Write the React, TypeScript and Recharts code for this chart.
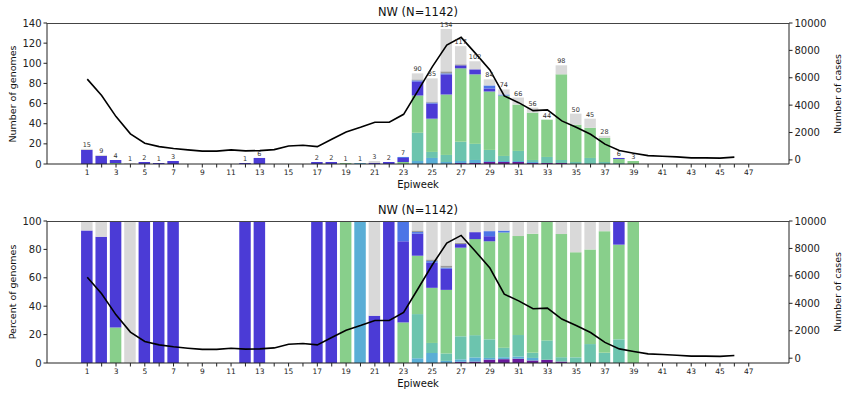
import { ComposedChart, Bar, Line, XAxis, YAxis, LabelList } from "recharts";

// epiweeks 1..46
const weeks = [1, 2, 3, 4, 5, 6, 7, 8, 9, 10, 11, 12, 13, 14, 15, 16, 17, 18, 19, 20, 21, 22, 23, 24, 25, 26, 27, 28, 29, 30, 31, 32, 33, 34, 35, 36, 37, 38, 39, 40, 41, 42, 43, 44, 45, 46];

// reported cases per week (right axis)
const cases = [5900, 4700, 3160, 1900, 1220, 970, 830, 730, 640, 640, 730, 660, 680, 750, 1020, 1070, 970, 1510, 2040, 2380, 2750, 2750, 3330, 5060, 6810, 8390, 8950, 7780, 6570, 4670, 4180, 3600, 3650, 2850, 2380, 1870, 1150, 680, 490, 315, 270, 220, 150, 150, 130, 200];

// genome counts per lineage group, week 1..46 (bottom of stack first)
const purple = [0, 0, 0, 0, 0, 0, 0, 0, 0, 0, 0, 0, 0, 0, 0, 0, 0, 0, 0, 0, 0, 0, 0, 0, 0, 0, 1, 1, 2, 2, 2, 1, 1, 1, 0, 0, 0, 0, 0, 0, 0, 0, 0, 0, 0, 0];
const skyBlue = [0, 0, 0, 0, 0, 0, 0, 0, 0, 0, 0, 0, 0, 0, 0, 0, 0, 0, 0, 1, 0, 0, 0, 3, 6, 2, 2, 3, 1, 1, 1, 1, 0, 0, 0, 0, 0, 0, 0, 0, 0, 0, 0, 0, 0, 0];
const teal = [0, 0, 0, 0, 0, 0, 0, 0, 0, 0, 0, 0, 0, 0, 0, 0, 0, 0, 0, 0, 0, 0, 0, 28, 6, 7, 19, 16, 11, 5, 10, 2, 6, 3, 2, 6, 2, 1, 0, 0, 0, 0, 0, 0, 0, 0];
const green = [0, 0, 1, 0, 0, 0, 0, 0, 0, 0, 0, 0, 0, 0, 0, 0, 0, 0, 1, 0, 0, 0, 2, 37, 33, 60, 73, 69, 58, 60, 46, 47, 37, 85, 37, 30, 24, 4, 3, 0, 0, 0, 0, 0, 0, 0];
const violet = [14, 8, 3, 0, 2, 1, 3, 0, 0, 0, 0, 1, 6, 0, 0, 0, 2, 2, 0, 0, 1, 2, 4, 14, 15, 20, 3, 5, 3, 0, 0, 0, 0, 0, 0, 0, 0, 1, 0, 0, 0, 0, 0, 0, 0, 0];
const royal = [0, 0, 0, 0, 0, 0, 0, 0, 0, 0, 0, 0, 0, 0, 0, 0, 0, 0, 0, 0, 0, 0, 1, 1, 1, 1, 0, 0, 3, 1, 0, 0, 0, 0, 0, 0, 0, 0, 0, 0, 0, 0, 0, 0, 0, 0];
const grey = [0, 0, 0, 0, 0, 0, 0, 0, 0, 0, 0, 0, 0, 0, 0, 0, 0, 0, 0, 0, 0, 0, 0, 1, 1, 2, 1, 0, 0, 0, 0, 0, 0, 0, 0, 0, 0, 0, 0, 0, 0, 0, 0, 0, 0, 0];
const other = [1, 1, 0, 1, 0, 0, 0, 0, 0, 0, 0, 0, 0, 0, 0, 0, 0, 0, 0, 0, 2, 0, 0, 6, 23, 42, 18, 8, 6, 5, 7, 5, 0, 9, 11, 9, 2, 0, 0, 0, 0, 0, 0, 0, 0, 0];

const xTicks = Array.from({ length: 47 }, (_, i) => i + 1);
const leftTicksTop = [0, 20, 40, 60, 80, 100, 120, 140];
const leftTicksBottom = [0, 20, 40, 60, 80, 100];
const caseTicks = [0, 2000, 4000, 6000, 8000, 10000];

const series = [
  { key: "purple", values: purple, color: "#6a1b9a" },
  { key: "skyBlue", values: skyBlue, color: "#5aaed6" },
  { key: "teal", values: teal, color: "#6cc4ae" },
  { key: "green", values: green, color: "#88cf8b" },
  { key: "violet", values: violet, color: "#4b3bd6" },
  { key: "royal", values: royal, color: "#4c75e6" },
  { key: "grey", values: grey, color: "#9a9a9a" },
  { key: "other", values: other, color: "#d9d9d9" },
];

const countRows = weeks.map((w, i) => {
  const row: any = { week: w, cases: cases[i] };
  let total = 0;
  series.forEach((s) => {
    row[s.key] = s.values[i];
    total += s.values[i];
  });
  row.total = total;
  // near-zero transparent cap so every non-empty week gets its total label
  row.cap = total ? 0.01 : 0;
  return row;
});

const pctRows = countRows.map((r) => {
  const row: any = { week: r.week, cases: r.cases };
  series.forEach((s) => {
    row[s.key] = r.total ? (r[s.key] / r.total) * 100 : 0;
  });
  return row;
});

const font = "DejaVu Sans, sans-serif";
const W = 850;
const PLOT_LEFT = 47;
const PLOT_W = 742;

const renderTotal = (props: any) => {
  const { x, y, width, value } = props;
  if (!value) return null;
  return (
    <text x={x + width / 2} y={y - 2} textAnchor="middle" fontSize={6.5} fill="#333" fontFamily={font}>
      {value}
    </text>
  );
};

const Panel = ({ top, height, data, percent }: { top: number; height: number; data: any[]; percent: boolean }) => {
  const mTop = percent ? 21 : 23;
  const plotH = percent ? 142 : 141;
  return (
    <div style={{ position: "absolute", left: 0, top, width: W, height }}>
      <ComposedChart width={W} height={height} data={data} margin={{ top: mTop, right: 0, bottom: height - mTop - plotH - 20, left: 0 }}>
        <XAxis
          dataKey="week"
          type="number"
          domain={[-1.8, 49.8]}
          ticks={xTicks}
          interval={0}
          allowDataOverflow
          tickFormatter={(v) => (v % 2 === 1 ? String(v) : "")}
          tickSize={3.5}
          height={20}
          stroke="#222"
          tick={{ fontSize: 7.5, fill: "#222", fontFamily: font }}
        />
        <YAxis
          yAxisId="left"
          width={PLOT_LEFT}
          domain={[0, percent ? 100 : 140]}
          ticks={percent ? leftTicksBottom : leftTicksTop}
          interval={0}
          tickSize={3.5}
          stroke="#222"
          tick={{ fontSize: 10, fill: "#222", fontFamily: font }}
        />
        <YAxis
          yAxisId="right"
          orientation="right"
          width={W - PLOT_LEFT - PLOT_W}
          domain={[percent ? -350 : -300, 10000]}
          ticks={caseTicks}
          interval={0}
          allowDataOverflow
          tickSize={3.5}
          stroke="#222"
          tick={{ fontSize: 10, fill: "#222", fontFamily: font }}
        />
        {series.map((s) => (
          <Bar key={s.key} yAxisId="left" dataKey={s.key} stackId="g" fill={s.color} barSize={11.5} isAnimationActive={false} />
        ))}
        {!percent ? (
          <Bar yAxisId="left" dataKey="cap" stackId="g" fill="transparent" barSize={11.5} isAnimationActive={false}>
            <LabelList dataKey="total" content={renderTotal} />
          </Bar>
        ) : null}
        <Line yAxisId="right" dataKey="cases" type="linear" stroke="#000" strokeWidth={1.6} dot={false} isAnimationActive={false} />
      </ComposedChart>
      <div
        style={{
          position: "absolute",
          left: PLOT_LEFT,
          top: mTop,
          width: PLOT_W,
          height: 0,
          borderTop: "1px solid #444",
          pointerEvents: "none",
        }}
      />
      <div style={{ position: "absolute", left: PLOT_LEFT, width: PLOT_W, top: mTop - 18, textAlign: "center", fontSize: 11.5, fontFamily: font, color: "#111" }}>
        NW (N=1142)
      </div>
      <div style={{ position: "absolute", left: PLOT_LEFT, width: PLOT_W, top: mTop + plotH + 15, textAlign: "center", fontSize: 10, fontFamily: font, color: "#111" }}>
        Epiweek
      </div>
      <div
        style={{
          position: "absolute",
          left: 12,
          top: mTop + plotH / 2,
          transform: "translate(-50%, -50%) rotate(-90deg)",
          whiteSpace: "nowrap",
          fontSize: 9.5,
          fontFamily: font,
          color: "#111",
        }}
      >
        {percent ? "Percent of genomes" : "Number of genomes"}
      </div>
      <div
        style={{
          position: "absolute",
          left: 837,
          top: mTop + plotH / 2,
          transform: "translate(-50%, -50%) rotate(-90deg)",
          whiteSpace: "nowrap",
          fontSize: 9.5,
          fontFamily: font,
          color: "#111",
        }}
      >
        Number of cases
      </div>
    </div>
  );
};

export default function App() {
  return (
    <div style={{ position: "absolute", left: 0, top: 0, width: W, height: 399, background: "#fff" }}>
      <Panel top={0} height={200} data={countRows} percent={false} />
      <Panel top={200} height={199} data={pctRows} percent={true} />
    </div>
  );
}
